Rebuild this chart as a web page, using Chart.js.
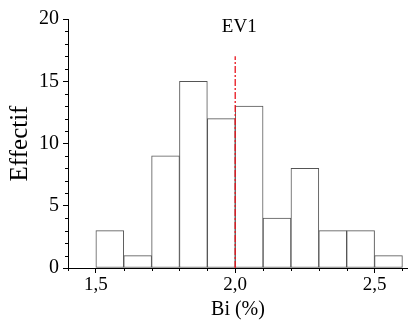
<!DOCTYPE html>
<html>
<head>
<meta charset="utf-8">
<script src="https://cdn.jsdelivr.net/npm/chart.js@4/dist/chart.umd.min.js"></script>
<style>
  body { margin: 0; background: #fff; }
  #wrap { width: 408px; height: 323px; }
</style>
</head>
<body>
<div id="wrap"><canvas id="hist"></canvas></div>
<script>
const binCenters = [1.55, 1.65, 1.75, 1.85, 1.95, 2.05, 2.15, 2.25, 2.35, 2.45, 2.55];
const counts = [3, 1, 9, 15, 12, 13, 4, 8, 3, 3, 1];
const xTicks = [1.5, 2.0, 2.5];
const xMinorTicks = [1.4, 1.6, 1.7, 1.8, 1.9, 2.1, 2.2, 2.3, 2.4, 2.6];
const yTicks = [0, 5, 10, 15, 20];
const markerX = 2.0;
const markerTop = 17;
const markerLabel = 'EV1';

const serif = "'Liberation Serif', 'Times New Roman', serif";

const extras = {
  id: 'extras',
  afterDraw(chart) {
    const { ctx, scales: { x, y } } = chart;
    ctx.save();
    ctx.strokeStyle = '#000';
    ctx.lineWidth = 1;
    // minor ticks
    ctx.beginPath();
    for (let v = 0; v <= 20; v++) {
      if (v % 5 === 0) continue;
      const py = Math.round(y.getPixelForValue(v)) + 0.5;
      ctx.moveTo(x.left - 3, py);
      ctx.lineTo(x.left, py);
    }
    xMinorTicks.forEach(v => {
      const px = Math.round(x.getPixelForValue(v)) + 0.5;
      ctx.moveTo(px, y.bottom);
      ctx.lineTo(px, y.bottom + 3);
    });
    ctx.stroke();
    // marker label
    ctx.fillStyle = '#000';
    ctx.font = '19px ' + serif;
    ctx.textAlign = 'center';
    ctx.textBaseline = 'alphabetic';
    ctx.fillText(markerLabel, x.getPixelForValue(markerX) + 4, 32);
    ctx.restore();
  }
};

new Chart(document.getElementById('hist').getContext('2d'), {
  type: 'bar',
  data: {
    datasets: [
      {
        type: 'line',
        data: [{ x: markerX, y: 0 }, { x: markerX, y: markerTop }],
        borderColor: '#e8141c',
        borderWidth: 1.3,
        borderDash: [7, 2, 2, 2],
        pointRadius: 0,
        fill: false
      },
      {
        data: binCenters.map((c, i) => ({ x: c, y: counts[i] })),
        backgroundColor: '#fff',
        borderColor: '#555',
        borderWidth: 1,
        borderSkipped: false,
        barPercentage: 1,
        categoryPercentage: 1
      }
    ]
  },
  plugins: [extras],
  options: {
    responsive: true,
    maintainAspectRatio: false,
    animation: false,
    layout: { padding: { top: 19, right: 0, left: 0, bottom: 0 } },
    plugins: { legend: { display: false }, tooltip: { enabled: false } },
    scales: {
      x: {
        type: 'linear',
        offset: false,
        min: 1.4,
        max: 2.62,
        afterBuildTicks: s => { s.ticks = xTicks.map(v => ({ value: v })); },
        afterFit: s => { s.height = 55; },
        grid: { drawOnChartArea: false, drawTicks: true, tickLength: 5, tickColor: '#000', offset: false },
        border: { display: true, color: '#000', width: 1 },
        ticks: {
          color: '#000',
          font: { family: serif, size: 19 },
          padding: 1,
          callback: v => v.toFixed(1).replace('.', ',')
        },
        title: {
          display: true,
          text: 'Bi (%)',
          color: '#000',
          font: { family: serif, size: 20 },
          padding: { top: 0, bottom: 1 }
        }
      },
      y: {
        min: 0,
        max: 20,
        afterBuildTicks: s => { s.ticks = yTicks.map(v => ({ value: v })); },
        afterFit: s => { s.width = 68; },
        grid: { drawOnChartArea: false, drawTicks: true, tickLength: 5, tickColor: '#000' },
        border: { display: true, color: '#000', width: 1 },
        ticks: {
          color: '#000',
          font: { family: serif, size: 20 },
          padding: 4
        },
        title: {
          display: true,
          text: 'Effectif',
          color: '#000',
          font: { family: serif, size: 25 },
          padding: { top: 5, bottom: 0 }
        }
      }
    }
  }
});
</script>
</body>
</html>
